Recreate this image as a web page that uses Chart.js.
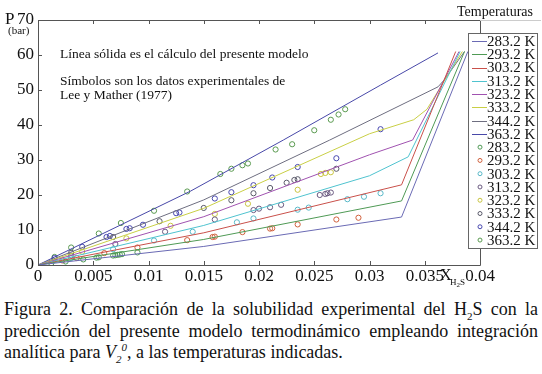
<!DOCTYPE html>
<html>
<head>
<meta charset="utf-8">
<script src="https://cdn.jsdelivr.net/npm/chart.js@4.4.0/dist/chart.umd.min.js"></script>
<style>
  html, body { margin: 0; padding: 0; background: #fff; }
  #wrap { position: relative; width: 542px; height: 290px; }
  #caption {
    font-family: "Liberation Serif", serif;
    font-size: 18px;
    line-height: 21.5px;
    text-align: justify;
    width: 534px;
    margin: 9px 0 0 4px;
    color: #111;
  }
  #caption sub, #caption sup { font-size: 11px; line-height: 0; }
</style>
</head>
<body>
<div id="wrap"><canvas id="myChart" width="542" height="290"></canvas></div>
<div id="caption">Figura 2. Comparación de la solubilidad experimental del H<sub>2</sub>S con la predicción del presente modelo termodinámico empleando integración analítica para <i>V</i><sub><i>2</i></sub><sup><i>0</i></sup>, a las temperaturas indicadas.</div>

<script>
const temperatures = ["283.2 K", "293.2 K", "303.2 K", "313.2 K", "323.2 K", "333.2 K", "344.2 K", "363.2 K"];
const lineColors = ["#6a6ab4", "#4f9a55", "#c9504a", "#4fc3cf", "#a052b0", "#c9cf45", "#6e6e80", "#4848a8"];
const pointColors = ["#4f9a55", "#d0603c", "#58b8c8", "#6a5a80", "#c8c440", "#5a5a6a", "#4848b0", "#5a9a50"];

// model curves (x H2S, P bar)
const model283 = [[0, 0], [0.015, 5.3], [0.0329, 13.7], [0.0389, 61]];
const model293 = [[0, 0], [0.015, 7.3], [0.0329, 18.3], [0.0386, 61]];
const model303 = [[0, 0], [0.015, 9.2], [0.0329, 22.9], [0.0378, 61]];
const model313 = [[0, 0], [0.015, 11.3], [0.03, 25.5], [0.0335, 30.9], [0.0382, 61]];
const model323 = [[0, 0], [0.015, 13.8], [0.03, 31.5], [0.0339, 35.7], [0.0381, 61]];
const model333 = [[0, 0], [0.015, 16.2], [0.03, 37.5], [0.034, 41.5], [0.0352, 44.5], [0.0384, 61]];
const model344 = [[0, 0], [0.015, 18.6], [0.0264, 35.7], [0.0362, 50.9], [0.0368, 53], [0.0386, 61]];
const model363 = [[0, 0], [0.0138, 21.1], [0.0222, 35.7], [0.031, 51.4], [0.0362, 60.6]];

// Lee y Mather (1977) points
const exp283 = [[0.0012, 0.5], [0.0025, 1.0], [0.0041, 1.6], [0.0053, 2.1], [0.0055, 2.2], [0.0068, 2.7], [0.007, 2.8], [0.0072, 2.9], [0.0074, 3.0], [0.0076, 3.1], [0.009, 3.6]];
const exp293 = [[0.0022, 1.3], [0.0035, 2.0], [0.006, 3.4], [0.009, 5.0], [0.0135, 7.1], [0.0158, 8.0], [0.016, 8.1], [0.0185, 9.4], [0.021, 10.4], [0.0212, 10.5], [0.0235, 11.6], [0.027, 13.0], [0.029, 13.5]];
const exp303 = [[0.003, 2.0], [0.0068, 4.5], [0.0105, 7.0], [0.014, 9.5], [0.018, 12.2], [0.0195, 13.3], [0.0235, 15.8], [0.0245, 16.4], [0.028, 18.8], [0.0295, 19.5], [0.031, 20.5]];
const exp313 = [[0.003, 2.7], [0.007, 6.0], [0.0115, 9.5], [0.016, 13.0], [0.0195, 15.7], [0.02, 16.1], [0.021, 16.5], [0.022, 17.2], [0.0255, 20.0], [0.026, 20.3], [0.0262, 20.5], [0.0265, 20.7]];
const exp323 = [[0.004, 3.8], [0.008, 7.6], [0.012, 11.2], [0.016, 14.6], [0.019, 17.5], [0.0235, 21.5], [0.0256, 26.0], [0.026, 26.3], [0.0265, 26.5]];
const exp333 = [[0.003, 3.5], [0.0068, 8.0], [0.011, 12.5], [0.015, 16.3], [0.0175, 18.5], [0.0195, 20.5], [0.021, 22.0], [0.0225, 23.5], [0.0232, 24.3], [0.0235, 24.5], [0.027, 27.5]];
const exp344 = [[0.0015, 2.0], [0.004, 5.2], [0.0062, 8.0], [0.0065, 8.3], [0.008, 10.3], [0.0083, 10.5], [0.0095, 11.5], [0.0125, 14.8], [0.0128, 15.0], [0.016, 19.0], [0.0175, 20.8], [0.0195, 22.8], [0.0212, 25.0], [0.0235, 28.0], [0.027, 30.5], [0.031, 38.8]];
const exp363 = [[0.0015, 2.3], [0.003, 5.0], [0.0055, 9.0], [0.0075, 12.0], [0.0105, 15.5], [0.0135, 21.0], [0.0165, 26.0], [0.0175, 27.5], [0.0185, 28.5], [0.019, 29.0], [0.0215, 33.0], [0.023, 34.5], [0.025, 38.5], [0.0265, 41.5], [0.0272, 43.0], [0.0278, 44.5]];

const models = [model283, model293, model303, model313, model323, model333, model344, model363];
const experiments = [exp283, exp293, exp303, exp313, exp323, exp333, exp344, exp363];

const xTicks = [0, 0.005, 0.01, 0.015, 0.02, 0.025, 0.03, 0.035, 0.04];
const yTicks = [0, 10, 20, 30, 40, 50, 60, 70];

const toXY = (arr) => arr.map((p) => ({ x: p[0], y: p[1] }));

const datasets = [];
models.forEach((m, i) => {
  datasets.push({
    label: temperatures[i],
    data: toXY(m),
    borderColor: lineColors[i],
    borderWidth: 1,
    pointRadius: 0,
    showLine: true,
    tension: 0,
  });
});
experiments.forEach((e, i) => {
  datasets.push({
    label: temperatures[i],
    data: toXY(e),
    borderColor: pointColors[i],
    backgroundColor: "rgba(0,0,0,0)",
    borderWidth: 1,
    pointRadius: 2.6,
    showLine: false,
  });
});

const serif = "'Liberation Serif', serif";

// frame, inward ticks, texts and the legend box
const decorations = {
  id: "decorations",
  afterDraw(chart) {
    const ctx = chart.ctx;
    const a = chart.chartArea;
    const xs = chart.scales.x;
    const ys = chart.scales.y;
    ctx.save();
    ctx.strokeStyle = "#555";
    ctx.lineWidth = 1;
    ctx.beginPath();
    ctx.rect(Math.round(a.left) + 0.5, Math.round(a.top) + 0.5, Math.round(a.right - a.left), Math.round(a.bottom - a.top));
    ctx.stroke();
    ctx.beginPath();
    xTicks.forEach((t) => {
      const px = Math.round(xs.getPixelForValue(t)) + 0.5;
      ctx.moveTo(px, a.bottom); ctx.lineTo(px, a.bottom - 4);
      ctx.moveTo(px, a.top); ctx.lineTo(px, a.top + 4);
    });
    yTicks.forEach((t) => {
      const py = Math.round(ys.getPixelForValue(t)) + 0.5;
      ctx.moveTo(a.left, py); ctx.lineTo(a.left + 4, py);
    });
    ctx.stroke();

    // faint rule under the legend title
    ctx.strokeStyle = "#ccc";
    ctx.beginPath();
    ctx.moveTo(a.right, Math.round(a.top) + 0.5); ctx.lineTo(541, Math.round(a.top) + 0.5);
    ctx.stroke();

    ctx.fillStyle = "#111";
    ctx.textBaseline = "middle";
    ctx.textAlign = "left";
    ctx.font = "17px " + serif;
    ctx.fillText("P", 5, ys.getPixelForValue(70));
    ctx.font = "11px " + serif;
    ctx.fillText("(bar)", 8, ys.getPixelForValue(70) + 11);

    ctx.font = "13.5px " + serif;
    ctx.fillText("Línea sólida es el cálculo del presente modelo", 60, 54);
    ctx.fillText("Símbolos son los datos experimentales de", 60, 81);
    ctx.fillText("Lee y Mather (1977)", 60, 95);

    // x axis title
    ctx.font = "16px " + serif;
    ctx.textBaseline = "alphabetic";
    ctx.fillText("X", 440, 280);
    ctx.font = "9px " + serif;
    ctx.fillText("H", 450, 285);
    ctx.font = "7px " + serif;
    ctx.fillText("2", 456.5, 287);
    ctx.font = "9px " + serif;
    ctx.fillText("S", 460, 285);

    // legend
    ctx.font = "14px " + serif;
    ctx.textAlign = "right";
    ctx.textBaseline = "middle";
    ctx.fillText("Temperaturas", 533, 12);

    const bx = 468.5, by = 33.5, bw = 69, bh = 215;
    ctx.fillStyle = "#fff";
    ctx.fillRect(bx, by, bw, bh);
    ctx.strokeStyle = "#666";
    ctx.strokeRect(bx, by, bw, bh);
    ctx.textAlign = "left";
    ctx.font = "15px " + serif;
    const step = 13.27;
    temperatures.forEach((t, i) => {
      const y = 41 + i * step;
      ctx.strokeStyle = lineColors[i];
      ctx.beginPath();
      ctx.moveTo(472, Math.round(y) + 0.5); ctx.lineTo(487, Math.round(y) + 0.5);
      ctx.stroke();
      ctx.fillStyle = "#111";
      ctx.fillText(t, 487, y + 1);
    });
    temperatures.forEach((t, i) => {
      const y = 41 + (i + 8) * step;
      ctx.strokeStyle = pointColors[i];
      ctx.beginPath();
      ctx.arc(480, y, 2, 0, Math.PI * 2);
      ctx.stroke();
      ctx.fillStyle = "#111";
      ctx.fillText(t, 487, y + 1);
    });
    ctx.restore();
  },
};

new Chart(document.getElementById("myChart"), {
  type: "scatter",
  data: { datasets },
  options: {
    responsive: false,
    animation: false,
    layout: { padding: { top: 20, right: 62, left: 0, bottom: 0 } },
    plugins: {
      legend: { display: false },
      tooltip: { enabled: false },
    },
    scales: {
      x: {
        type: "linear",
        min: 0,
        max: 0.04,
        afterFit: (s) => { s.height = 25; },
        afterBuildTicks: (s) => { s.ticks = xTicks.map((v) => ({ value: v })); },
        grid: { display: false, drawTicks: false },
        border: { display: false },
        ticks: {
          padding: 1,
          color: "#111",
          font: { family: serif, size: 17 },
          maxRotation: 0,
          autoSkip: false,
          callback: (v) => String(Number(v.toFixed(3))),
        },
      },
      y: {
        type: "linear",
        min: 0,
        max: 70,
        afterFit: (s) => { s.width = 38; },
        afterBuildTicks: (s) => { s.ticks = yTicks.map((v) => ({ value: v })); },
        grid: { display: false, drawTicks: false },
        border: { display: false },
        ticks: {
          padding: 4,
          color: "#111",
          font: { family: serif, size: 17 },
          autoSkip: false,
          callback: (v) => String(v),
        },
      },
    },
  },
  plugins: [decorations],
});
</script>
</body>
</html>
